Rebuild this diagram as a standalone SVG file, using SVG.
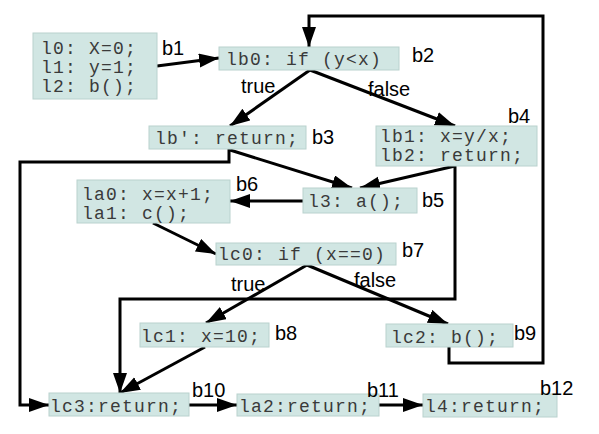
<svg xmlns="http://www.w3.org/2000/svg" width="599" height="434" viewBox="0 0 599 434">
<style>
.box{fill:#d1e6e3;stroke:#b9d2ce;stroke-width:1}
.code{font-family:"Liberation Mono","Courier New",monospace;font-size:18px;letter-spacing:1.2px;fill:#3a3a3a}
.lbl{font-family:"Liberation Sans",Arial,sans-serif;font-size:20px;fill:#000}
.edge{fill:none;stroke:#000;stroke-width:3;stroke-linejoin:miter}
</style>
<defs>
<marker id="ah" markerUnits="userSpaceOnUse" markerWidth="22" markerHeight="16" refX="20" refY="7" orient="auto">
<path d="M0,0 L20,7 L0,14 z" fill="#000"/>
</marker>
</defs>
<rect width="599" height="434" fill="#fff"/>
<g id="connectors">
<path class="edge" d="M157,66 L219,58" marker-end="url(#ah)"/>
<path class="edge" d="M310,70 L230,126" marker-end="url(#ah)"/>
<path class="edge" d="M310,70 L455,126" marker-end="url(#ah)"/>
<path class="edge" d="M230,150 L352,188" marker-end="url(#ah)"/>
<path class="edge" d="M455,166 L360,188" marker-end="url(#ah)"/>
<path class="edge" d="M229,149 L229,162 L20,162 L20,405 L49,405" marker-end="url(#ah)"/>
<path class="edge" d="M455,166 L455,299 L120,299 L120,393" marker-end="url(#ah)"/>
<path class="edge" d="M303,201 L230,201" marker-end="url(#ah)"/>
<path class="edge" d="M153,223 L216,254" marker-end="url(#ah)"/>
<path class="edge" d="M307,265 L206,323" marker-end="url(#ah)"/>
<path class="edge" d="M307,265 L448,324" marker-end="url(#ah)"/>
<path class="edge" d="M205,347 L120,393" marker-end="url(#ah)"/>
<path class="edge" d="M449,347 L449,363 L543,363 L543,16 L309,16 L309,47" marker-end="url(#ah)"/>
<path class="edge" d="M189,405 L237,405" marker-end="url(#ah)"/>
<path class="edge" d="M379,405 L423,405" marker-end="url(#ah)"/>
<text class="lbl" x="241" y="93">true</text>
<text class="lbl" x="368" y="96">false</text>
<text class="lbl" x="231" y="291">true</text>
<text class="lbl" x="354" y="287">false</text>
</g>
<g id="b1">
<rect class="box" x="33" y="33" width="124" height="66"/>
<text class="code" x="41" y="54">l0: X=0;</text>
<text class="code" x="41" y="73">l1: y=1;</text>
<text class="code" x="41" y="92">l2: b();</text>
<text class="lbl" x="162" y="55">b1</text>
</g>
<g id="b2">
<rect class="box" x="219" y="47" width="180" height="23"/>
<text class="code" x="226" y="65">lb0: if (y&lt;x)</text>
<text class="lbl" x="412" y="62">b2</text>
</g>
<g id="b3">
<rect class="box" x="149" y="126" width="157" height="23"/>
<text class="code" x="155" y="144">lb': return;</text>
<text class="lbl" x="312" y="144">b3</text>
</g>
<g id="b4">
<rect class="box" x="376" y="126" width="161" height="40"/>
<text class="code" x="380" y="142">lb1: x=y/x;</text>
<text class="code" x="380" y="161">lb2: return;</text>
<text class="lbl" x="508" y="123">b4</text>
</g>
<g id="b5">
<rect class="box" x="303" y="188" width="114" height="25"/>
<text class="code" x="308" y="207">l3: a();</text>
<text class="lbl" x="422" y="207">b5</text>
</g>
<g id="b6">
<rect class="box" x="77" y="180" width="153" height="43"/>
<text class="code" x="82" y="200">la0: x=x+1;</text>
<text class="code" x="82" y="219">la1: c();</text>
<text class="lbl" x="236" y="191">b6</text>
</g>
<g id="b7">
<rect class="box" x="216" y="243" width="180" height="22"/>
<text class="code" x="218" y="260">lc0: if (x==0)</text>
<text class="lbl" x="402" y="257">b7</text>
</g>
<g id="b8">
<rect class="box" x="140" y="323" width="129" height="24"/>
<text class="code" x="141" y="342">lc1: x=10;</text>
<text class="lbl" x="275" y="340">b8</text>
</g>
<g id="b9">
<rect class="box" x="386" y="324" width="127" height="23"/>
<text class="code" x="391" y="343">lc2: b();</text>
<text class="lbl" x="514" y="340">b9</text>
</g>
<g id="b10">
<rect class="box" x="49" y="393" width="140" height="23"/>
<text class="code" x="50" y="412">lc3:return;</text>
<text class="lbl" x="192" y="397">b10</text>
</g>
<g id="b11">
<rect class="box" x="237" y="394" width="142" height="22"/>
<text class="code" x="239" y="412">la2:return;</text>
<text class="lbl" x="367" y="397">b11</text>
</g>
<g id="b12">
<rect class="box" x="423" y="394" width="134" height="23"/>
<text class="code" x="425" y="412">l4:return;</text>
<text class="lbl" x="540" y="395">b12</text>
</g>
</svg>
